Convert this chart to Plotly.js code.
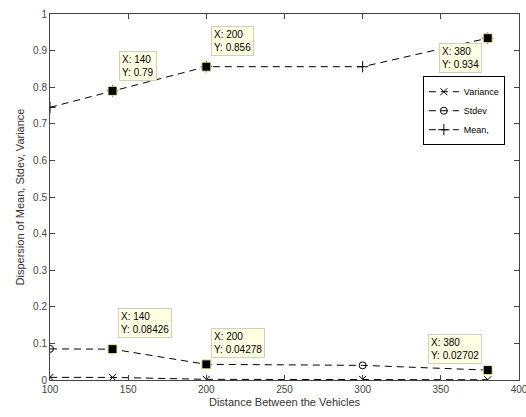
<!DOCTYPE html>
<html><head><meta charset="utf-8">
<script src="https://cdn.plot.ly/plotly-3.0.1.min.js"></script>
<style>body{margin:0;background:#fff}#chart{width:526px;height:417px}</style>
</head><body><div id="chart"></div>
<script>
const distances = [100, 140, 200, 300, 380];
const variance = [0.0072, 0.0071, 0.00183, 0.0016, 0.00073];
const stdev = [0.085, 0.08426, 0.04278, 0.04, 0.02702];
const mean = [0.745, 0.79, 0.856, 0.856, 0.934];
const tipX = [140, 200, 380];
const meanTips = [0.79, 0.856, 0.934];
const stdevTips = [0.08426, 0.04278, 0.02702];
const meanTipLabels = ["0.79", "0.856", "0.934"];
const stdevTipLabels = ["0.08426", "0.04278", "0.02702"];
const xTicks = [100, 150, 200, 250, 300, 350, 400];
const yTicks = [0, 0.1, 0.2, 0.3, 0.4, 0.5, 0.6, 0.7, 0.8, 0.9, 1];
const yTickText = ["0", "0.1", "0.2", "0.3", "0.4", "0.5", "0.6", "0.7", "0.8", "0.9", "1"];

const lineStyle = {color: '#000', width: 1, dash: '7px,5px'};
const traces = [
  {x: distances, y: variance, name: 'Variance', mode: 'lines+markers', line: lineStyle,
   marker: {symbol: 'x-thin-open', size: 7, color: '#000', line: {color: '#000', width: 1}}},
  {x: distances, y: stdev, name: 'Stdev', mode: 'lines+markers', line: lineStyle,
   marker: {symbol: 'circle-open', size: 7, color: '#000', line: {color: '#000', width: 1}}},
  {x: distances, y: mean, name: 'Mean,', mode: 'lines+markers', line: lineStyle,
   marker: {symbol: 'cross-thin-open', size: 8, color: '#000', line: {color: '#000', width: 1}}},
  {x: tipX.concat(tipX), y: meanTips.concat(stdevTips), mode: 'markers', showlegend: false,
   marker: {symbol: 'square', size: 9, color: '#000', line: {color: '#f0e8a0', width: 1}}}
];

// annotation placement: [xanchor, yanchor, xshift, yshift]
const meanPlace = [['left','bottom',6,10],['left','bottom',5,11],['right','top',-6,-5]];
const stdevPlace = [['left','bottom',5,11],['left','bottom',5,6],['right','bottom',-6,6]];
const annotations = [];
function addTips(ys, labels, place) {
  for (let i = 0; i < tipX.length; i++) {
    annotations.push({
      x: tipX[i], y: ys[i], xref: 'x', yref: 'y', showarrow: false,
      text: 'X: ' + tipX[i] + '<br>Y: ' + labels[i], align: 'left',
      xanchor: place[i][0], yanchor: place[i][1], xshift: place[i][2], yshift: place[i][3],
      bgcolor: '#ffffe1', bordercolor: '#d0d0c0', borderwidth: 1, borderpad: 2,
      font: {family: 'Liberation Sans, Arial, sans-serif', size: 10, color: '#000'}
    });
  }
}
addTips(meanTips, meanTipLabels, meanPlace);
addTips(stdevTips, stdevTipLabels, stdevPlace);

const axisCommon = {
  showgrid: false, zeroline: false, showline: true, linecolor: '#444', linewidth: 1,
  mirror: 'ticks', ticks: 'inside', ticklen: 5, tickcolor: '#444',
  tickfont: {family: 'Liberation Sans, Arial, sans-serif', size: 10, color: '#444'}
};
const layout = {
  width: 526, height: 417,
  margin: {l: 50, r: 7, t: 14, b: 37},
  paper_bgcolor: '#fff', plot_bgcolor: '#fff',
  showlegend: true,
  legend: {x: 0.795, y: 0.83, xanchor: 'left', yanchor: 'top', bgcolor: '#fff',
    bordercolor: '#000', borderwidth: 1, tracegroupgap: 0, itemwidth: 30,
    font: {family: 'Liberation Sans, Arial, sans-serif', size: 9, color: '#000'}},
  xaxis: Object.assign({}, axisCommon, {range: [99.999, 400.001], tickvals: xTicks,
    ticklabeloverflow: 'allow',
    title: {text: 'Distance Between the Vehicles', standoff: 4,
      font: {family: 'Liberation Sans, Arial, sans-serif', size: 11, color: '#333'}}}),
  yaxis: Object.assign({}, axisCommon, {range: [0, 1], tickvals: yTicks, ticktext: yTickText,
    title: {text: 'Dispersion of Mean, Stdev, Variance', standoff: 6,
      font: {family: 'Liberation Sans, Arial, sans-serif', size: 11, color: '#333'}}}),
  annotations: annotations
};
Plotly.newPlot('chart', traces, layout, {displayModeBar: false, staticPlot: true});
</script>
</body></html>
